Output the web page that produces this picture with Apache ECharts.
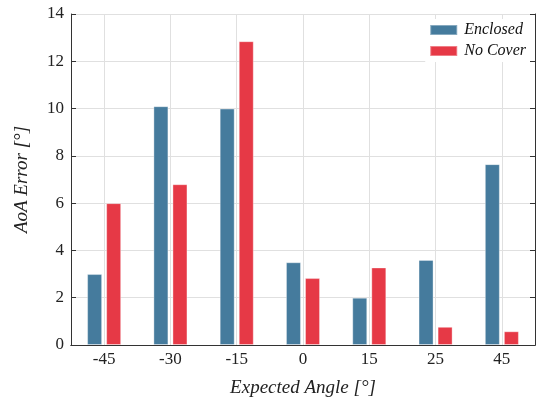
<!DOCTYPE html>
<html>
<head>
<meta charset="utf-8">
<script src="https://cdn.jsdelivr.net/npm/echarts@6/dist/echarts.min.js"></script>
<style>
  html, body { margin: 0; padding: 0; background: #fff; }
  #main { width: 542px; height: 399px; }
</style>
</head>
<body>
<div id="main"></div>
<script>
// expected angles (deg) and AoA error per case
var angles = ['-45', '-30', '-15', '0', '15', '25', '45'];
var enclosed = [3.0, 10.1, 10.0, 3.5, 2.0, 3.6, 7.65];
var noCover = [6.0, 6.8, 12.85, 2.83, 3.28, 0.77, 0.58];
var yTicks = { min: 0, max: 14, step: 2 };

var serif = '"Liberation Serif", "DejaVu Serif", serif';
var axisColor = '#333';
var gridColor = '#e0e0e0';

var chart = echarts.init(document.getElementById('main'), null, { renderer: 'canvas' });

var option = {
  backgroundColor: '#ffffff',
  animation: false,
  textStyle: { fontFamily: serif },
  grid: { left: 71, right: 7, top: 14, bottom: 54, outerBoundsMode: 'none', containLabel: false },
  legend: {
    right: 12,
    top: 19,
    orient: 'vertical',
    icon: 'rect',
    itemWidth: 27,
    itemHeight: 10,
    itemGap: 5,
    backgroundColor: '#fff',
    padding: [3, 4, 3, 4],
    textStyle: { fontFamily: serif, fontStyle: 'italic', fontSize: 16, color: '#111', padding: [0, 0, 0, 2] },
    data: ['Enclosed', 'No Cover']
  },
  xAxis: [{
    type: 'category',
    data: angles,
    boundaryGap: true,
    name: 'Expected Angle [°]',
    nameLocation: 'middle',
    nameGap: 33,
    nameTextStyle: { fontFamily: serif, fontStyle: 'italic', fontSize: 19, color: '#222' },
    axisLine: { lineStyle: { color: axisColor, width: 1 } },
    axisTick: { inside: true, alignWithLabel: true, length: 5, lineStyle: { color: axisColor } },
    axisLabel: { fontFamily: serif, fontSize: 17, color: '#222', margin: 6 },
    splitLine: { show: true, alignWithLabel: true, lineStyle: { color: gridColor, width: 1 } }
  }, {
    type: 'category',
    data: angles,
    position: 'top',
    boundaryGap: true,
    axisLine: { lineStyle: { color: axisColor, width: 1 } },
    axisTick: { inside: true, alignWithLabel: true, length: 5, lineStyle: { color: axisColor } },
    axisLabel: { show: false },
    splitLine: { show: false }
  }],
  yAxis: [{
    type: 'value',
    min: yTicks.min,
    max: yTicks.max,
    interval: yTicks.step,
    name: 'AoA Error [°]',
    nameLocation: 'middle',
    nameGap: 40,
    nameTextStyle: { fontFamily: serif, fontStyle: 'italic', fontSize: 19, color: '#222' },
    axisLine: { show: true, lineStyle: { color: axisColor, width: 1 } },
    axisTick: { show: true, inside: true, length: 5, lineStyle: { color: axisColor } },
    axisLabel: { fontFamily: serif, fontSize: 17, color: '#222', margin: 7 },
    splitLine: { show: true, lineStyle: { color: gridColor, width: 1 } }
  }, {
    type: 'value',
    min: yTicks.min,
    max: yTicks.max,
    interval: yTicks.step,
    position: 'right',
    axisLine: { show: true, lineStyle: { color: axisColor, width: 1 } },
    axisTick: { show: true, inside: true, length: 5, lineStyle: { color: axisColor } },
    axisLabel: { show: false },
    splitLine: { show: false }
  }],
  series: [{
    name: 'Enclosed',
    type: 'bar',
    data: enclosed,
    barWidth: 15,
    barGap: '27%',
    itemStyle: { color: '#457b9d', borderColor: 'rgba(255,255,255,0.35)', borderWidth: 1 }
  }, {
    name: 'No Cover',
    type: 'bar',
    data: noCover,
    barWidth: 15,
    barGap: '27%',
    itemStyle: { color: '#e63946', borderColor: 'rgba(255,255,255,0.35)', borderWidth: 1 }
  }]
};

chart.setOption(option);
</script>
</body>
</html>
